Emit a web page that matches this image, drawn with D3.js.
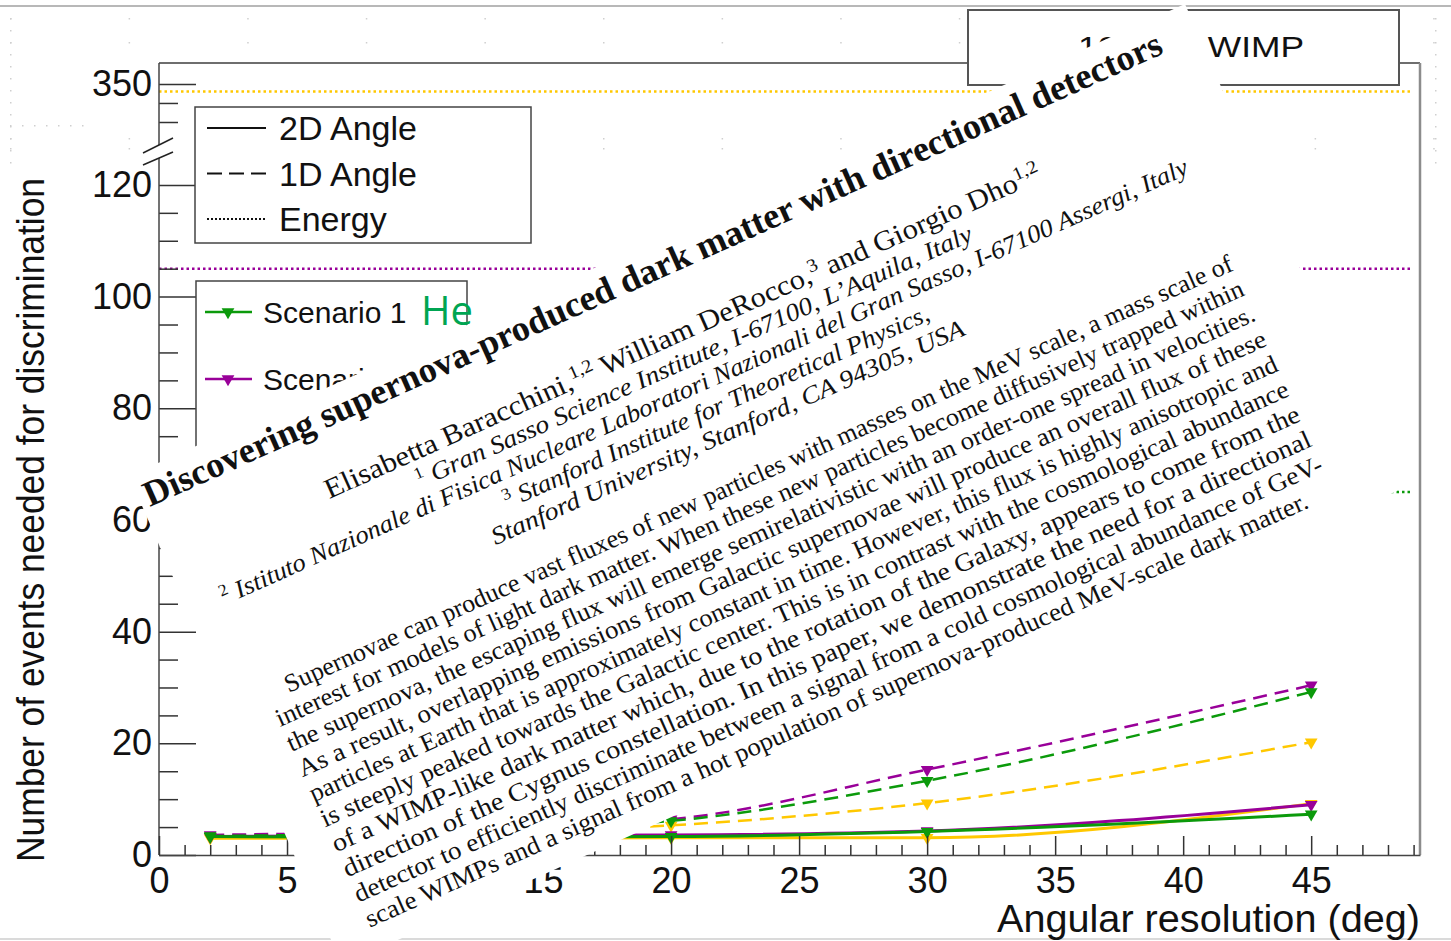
<!DOCTYPE html>
<html>
<head>
<meta charset="utf-8">
<script src="https://cdn.jsdelivr.net/npm/d3@7"></script>
<style>
  body { margin: 0; background: #fff; }
  svg { display: block; font-family: "Liberation Sans", Arial, sans-serif; }
</style>
</head>
<body>
<svg id="chart" width="1451" height="941"></svg>
<script>
// ---- data ----
const resolutions = [2, 10, 20, 30, 45]; // deg
const scenarioNames = ["Scenario 1", "Scenario 2", "Scenario 3"];
const scenarioColors = ["#0b9a0b", "#990099", "#ffc800"];
const angle2D = [
  [3.3, 3.2, 3.3, 4.2, 7.3],
  [3.3, 3.5, 3.6, 4.3, 9.0],
  [3.0, 3.0, 3.1, 3.1, 9.2],
];
const angle1D = [
  [3.4, 4.0, 6.1, 13.3, 29.2],
  [3.6, 4.3, 6.4, 15.3, 30.4],
  [3.3, 3.9, 5.3, 9.3, 20.2],
];
const energyOnly = [65, 105, 348]; // flat, no angular info
const energyRange = [0, 48.9];
const xTicks = [0, 5, 10, 15, 20, 25, 30, 35, 40, 45];
const yTicksLow = [0, 20, 40, 60, 80, 100, 120];
const yTicksHigh = [350];
const styleNames = ["2D Angle", "1D Angle", "Energy"];

// text of the pasted paper page
const paperTitle = "Discovering supernova-produced dark matter with directional detectors";
const paperAuthors = [
  ["Elisabetta Baracchini,", false], ["1,2", true], [" William DeRocco,", false], ["3", true],
  [" and Giorgio Dho", false], ["1,2", true],
];
const paperAffiliations = [
  [["1", true], [" Gran Sasso Science Institute, I-67100, L\u2019Aquila, Italy", false]],
  [["2", true], [" Istituto Nazionale di Fisica Nucleare Laboratori Nazionali del Gran Sasso, I-67100 Assergi, Italy", false]],
  [["3", true], [" Stanford Institute for Theoretical Physics,", false]],
  [["Stanford University, Stanford, CA 94305, USA", false]],
];
const paperAbstract = [
  "Supernovae can produce vast fluxes of new particles with masses on the MeV scale, a mass scale of",
  "interest for models of light dark matter. When these new particles become diffusively trapped within",
  "the supernova, the escaping flux will emerge semirelativistic with an order-one spread in velocities.",
  "As a result, overlapping emissions from Galactic supernovae will produce an overall flux of these",
  "particles at Earth that is approximately constant in time. However, this flux is highly anisotropic and",
  "is steeply peaked towards the Galactic center. This is in contrast with the cosmological abundance",
  "of a WIMP-like dark matter which, due to the rotation of the Galaxy, appears to come from the",
  "direction of the Cygnus constellation. In this paper, we demonstrate the need for a directional",
  "detector to efficiently discriminate between a signal from a cold cosmological abundance of GeV-",
  "scale WIMPs and a signal from a hot population of supernova-produced MeV-scale dark matter.",
];

const svg = d3.select("#chart");

// scales (broken y axis: 0-125 below, 340-355 above)
const x = d3.scaleLinear().domain([0, 49.25]).range([159, 1420]);
const y = d3.scaleLinear().domain([0, 125, 340, 355.5]).range([855, 157, 122, 63]);

// ---- canvas decorations ----
const grid = svg.append("g").attr("fill", "#cfcfcf");
d3.range(0, 13).forEach((k) => {
  [18, 42, 138, 148].forEach((gy) => {
    grid.append("rect").attr("x", 10 + 118.6 * k).attr("y", gy).attr("width", 1.5).attr("height", 1.5);
  });
});
d3.range(18, 165, 12).forEach((gy) => {
  grid.append("rect").attr("x", 10).attr("y", gy).attr("width", 1.5).attr("height", 1.5);
  grid.append("rect").attr("x", 1435).attr("y", gy).attr("width", 1.5).attr("height", 1.5);
});
d3.range(10, 85, 12).forEach((gx) => {
  grid.append("rect").attr("x", gx).attr("y", 125).attr("width", 1.5).attr("height", 1.5);
});
svg.append("line").attr("x1", 0).attr("x2", 1451).attr("y1", 6).attr("y2", 6)
  .attr("stroke", "#b8b8b8").attr("stroke-width", 2);
svg.append("line").attr("x1", 0).attr("x2", 1451).attr("y1", 939).attr("y2", 939)
  .attr("stroke", "#dadada").attr("stroke-width", 2);

// frame top / right
svg.append("line").attr("x1", x(0)).attr("x2", x(49.25)).attr("y1", y(355.5)).attr("y2", y(355.5))
  .attr("stroke", "#6e6e6e").attr("stroke-width", 2);
svg.append("line").attr("x1", x(49.25)).attr("x2", x(49.25)).attr("y1", y(355.5)).attr("y2", y(0))
  .attr("stroke", "#8c8c8c").attr("stroke-width", 2.5);

// ---- series ----
const plot = svg.append("g");
const order = [2, 1, 0]; // yellow below, green on top

order.forEach((i) => {
  plot.append("line")
    .attr("x1", x(energyRange[0])).attr("x2", x(energyRange[1]))
    .attr("y1", y(energyOnly[i])).attr("y2", y(energyOnly[i]))
    .attr("stroke", scenarioColors[i]).attr("stroke-width", 2.5)
    .attr("stroke-dasharray", "2.5,3");
});

const line = d3.line().x((d) => x(d[0])).y((d) => y(d[1])).curve(d3.curveMonotoneX);
const marker = d3.symbol().type(d3.symbolTriangle).size(70);

order.forEach((i) => {
  [[angle1D[i], "14,8", 2.5], [angle2D[i], null, 3]].forEach(([vals, dash, w]) => {
    const pts = resolutions.map((r, j) => [r, vals[j]]);
    plot.append("path").datum(pts)
      .attr("d", line).attr("fill", "none")
      .attr("stroke", scenarioColors[i]).attr("stroke-width", w)
      .attr("stroke-dasharray", dash);
    plot.selectAll(null).data(pts).join("path")
      .attr("d", marker)
      .attr("transform", (d) => `translate(${x(d[0])},${y(d[1])}) rotate(180)`)
      .attr("fill", scenarioColors[i]);
  });
});

// ---- axes ----
function styleAxis(g) {
  g.attr("color", "#333").attr("font-family", '"Liberation Sans", Arial, sans-serif').attr("font-size", 36);
  g.selectAll("line").attr("stroke-width", 1.5);
  g.selectAll("text").attr("fill", "#111");
}

const yMajor = svg.append("g").attr("transform", `translate(${x(0)},0)`)
  .call(d3.axisLeft(y).tickValues(yTicksLow.concat(yTicksHigh)).tickSize(-37).tickPadding(7).tickSizeOuter(0));
yMajor.select(".domain").remove();
styleAxis(yMajor);

const yMinorVals = d3.range(5, 125, 5).filter((v) => v % 20 !== 0).concat([340, 345]);
const yMinor = svg.append("g").attr("transform", `translate(${x(0)},0)`)
  .call(d3.axisLeft(y).tickValues(yMinorVals).tickSize(-19).tickFormat("").tickSizeOuter(0));
yMinor.select(".domain").remove();
styleAxis(yMinor);

// y axis line with the break
const yLine = svg.append("g").attr("stroke", "#444").attr("stroke-width", 1.5);
yLine.append("line").attr("x1", x(0)).attr("x2", x(0)).attr("y1", y(355.5)).attr("y2", 145);
yLine.append("line").attr("x1", x(0)).attr("x2", x(0)).attr("y1", 157).attr("y2", y(0));
yLine.append("polygon").attr("points", "143,153 173,138 173,152 143,165").attr("fill", "#fff").attr("stroke", "none");
yLine.append("line").attr("x1", 143).attr("y1", 153).attr("x2", 173).attr("y2", 138).attr("stroke", "#222");
yLine.append("line").attr("x1", 143).attr("y1", 165).attr("x2", 173).attr("y2", 152).attr("stroke", "#222");

const xMajor = svg.append("g").attr("transform", `translate(0,${y(0)})`)
  .call(d3.axisBottom(x).tickValues(xTicks).tickSize(-19).tickPadding(12).tickSizeOuter(0));
styleAxis(xMajor);
xMajor.select(".domain").attr("stroke", "#444").attr("stroke-width", 1.5);

const xMinor = svg.append("g").attr("transform", `translate(0,${y(0)})`)
  .call(d3.axisBottom(x).tickValues(d3.range(1, 50).filter((v) => v % 5 !== 0)).tickSize(-10).tickFormat("").tickSizeOuter(0));
xMinor.select(".domain").remove();
styleAxis(xMinor);

svg.append("text")
  .attr("transform", "translate(44,520) rotate(-90)")
  .attr("text-anchor", "middle").attr("font-size", 38).attr("fill", "#111")
  .attr("textLength", 684).attr("lengthAdjust", "spacingAndGlyphs")
  .text("Number of events needed for discrimination");

svg.append("text")
  .attr("x", 1420).attr("y", 932)
  .attr("text-anchor", "end").attr("font-size", 38).attr("fill", "#111")
  .attr("textLength", 423).attr("lengthAdjust", "spacingAndGlyphs")
  .text("Angular resolution (deg)");

// ---- legend: line styles ----
const leg1 = svg.append("g");
leg1.append("rect").attr("x", 195).attr("y", 107).attr("width", 336).attr("height", 136)
  .attr("fill", "#fff").attr("stroke", "#444").attr("stroke-width", 1.5);
const styleDash = [null, "15,7", "2,2"];
styleNames.forEach((name, i) => {
  const cy = 128 + i * 45.5;
  leg1.append("line").attr("x1", 207).attr("x2", 266).attr("y1", cy).attr("y2", cy)
    .attr("stroke", "#111").attr("stroke-width", 2).attr("stroke-dasharray", styleDash[i]);
  leg1.append("text").attr("x", 279).attr("y", cy + 12).attr("font-size", 34).attr("fill", "#111").text(name);
});

// ---- legend: scenarios ----
const leg2 = svg.append("g");
leg2.append("rect").attr("x", 196).attr("y", 281).attr("width", 271).attr("height", 200)
  .attr("fill", "#fff").attr("stroke", "#444").attr("stroke-width", 1.5);
scenarioNames.forEach((name, i) => {
  const cy = 312 + i * 67;
  leg2.append("line").attr("x1", 205).attr("x2", 252).attr("y1", cy).attr("y2", cy)
    .attr("stroke", scenarioColors[i]).attr("stroke-width", 2.5);
  leg2.append("path").attr("d", marker).attr("transform", `translate(228,${cy}) rotate(180)`)
    .attr("fill", scenarioColors[i]);
  leg2.append("text").attr("x", 263).attr("y", cy + 11).attr("font-size", 30).attr("fill", "#111").text(name);
});
leg2.append("text").attr("x", 421).attr("y", 325)
  .attr("font-family", '"Open Sans", sans-serif').attr("font-size", 40).attr("fill", "#00a552").text("He");

// ---- legend: WIMP ----
const leg3 = svg.append("g");
leg3.append("rect").attr("x", 968).attr("y", 10).attr("width", 431).attr("height", 75)
  .attr("fill", "#fff").attr("stroke", "#555").attr("stroke-width", 2);
leg3.append("text").attr("x", 1078).attr("y", 57).attr("font-size", 30).attr("fill", "#111")
  .attr("textLength", 226).attr("lengthAdjust", "spacingAndGlyphs").text("10 GeV WIMP");

// ---- pasted paper page on top ----
svg.append("polygon")
  .attr("points", "129,476 1185,4 1397,491 342,965")
  .attr("fill", "#fff");

const page = svg.append("g")
  .attr("transform", "translate(280,727) rotate(-24.1)")
  .attr("font-family", '"Liberation Serif", "DejaVu Serif", serif')
  .attr("fill", "#111")
  .attr("text-anchor", "middle");

function addLine(parts, u, v, len, size, opts = {}) {
  const t = page.append("text").attr("x", u).attr("y", v).attr("font-size", size)
    .attr("textLength", len).attr("lengthAdjust", "spacingAndGlyphs");
  if (opts.bold) t.attr("font-weight", "bold");
  if (opts.italic) t.attr("font-style", "italic");
  parts.forEach(([s, sup]) => {
    const ts = t.append("tspan").text(s);
    if (sup) ts.attr("baseline-shift", "super").attr("font-size", size * 0.66).attr("font-style", "normal");
  });
}

addLine([[paperTitle, false]], 527, -254, 1112, 36, { bold: true });
addLine(paperAuthors, 529, -188, 782, 28);
const affLayout = [[529, -161, 607], [528, -134, 1057], [529, -106, 464], [529, -78, 516]];
paperAffiliations.forEach((parts, i) => {
  const [u, v, len] = affLayout[i];
  addLine(parts, u, v, len, 25, { italic: true });
});
paperAbstract.forEach((s, k) => {
  const v = -27.5 + 27.5 * k;
  let u = 529, len = 1058;
  if (k === 0) { u = 540; len = 1036; }
  if (k === paperAbstract.length - 1) { u = 515; len = 1030; }
  addLine([[s, false]], u, v, len, 25.5);
});
</script>
</body>
</html>
